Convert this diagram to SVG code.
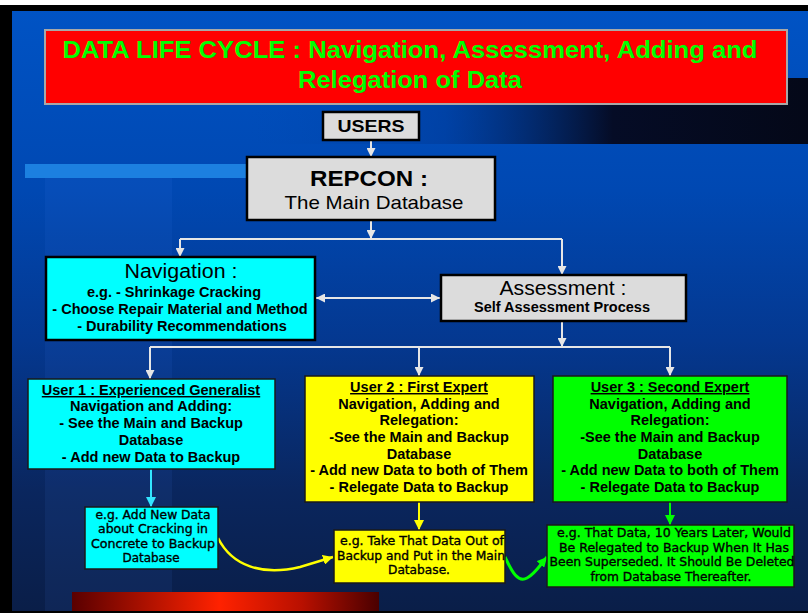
<svg xmlns="http://www.w3.org/2000/svg" width="808" height="613" viewBox="0 0 808 613">
<defs>
<linearGradient id="bg" x1="0" y1="0" x2="0" y2="1">
<stop offset="0" stop-color="#0053C4"/>
<stop offset="0.3" stop-color="#0048B2"/>
<stop offset="0.55" stop-color="#043890"/>
<stop offset="0.8" stop-color="#0A265E"/>
<stop offset="1" stop-color="#0A1E48"/>
</linearGradient>
<linearGradient id="band" x1="0" y1="0" x2="1" y2="0">
<stop offset="0" stop-color="#0048B0" stop-opacity="0"/>
<stop offset="0.35" stop-color="#003A98" stop-opacity="0.6"/>
<stop offset="0.65" stop-color="#050C26"/>
<stop offset="1" stop-color="#040818"/>
</linearGradient>
<linearGradient id="redbar" x1="0" y1="0" x2="1" y2="0">
<stop offset="0" stop-color="#5A0000"/>
<stop offset="0.48" stop-color="#FF2200"/>
<stop offset="0.75" stop-color="#B81000"/>
<stop offset="1" stop-color="#4A0000"/>
</linearGradient>
<marker id="ag" viewBox="0 0 10 10" refX="10" refY="5" markerWidth="9" markerHeight="9" markerUnits="userSpaceOnUse" orient="auto-start-reverse"><path d="M0,0 L10,5 L0,10 z" fill="#E6E6E6"/></marker>
<marker id="ac" viewBox="0 0 10 10" refX="10" refY="5" markerWidth="10" markerHeight="10" markerUnits="userSpaceOnUse" orient="auto"><path d="M0,0 L10,5 L0,10 z" fill="#33E6FF"/></marker>
<marker id="ay" viewBox="0 0 10 10" refX="10" refY="5" markerWidth="10" markerHeight="10" markerUnits="userSpaceOnUse" orient="auto"><path d="M0,0 L10,5 L0,10 z" fill="#FFFF00"/></marker>
<marker id="agr" viewBox="0 0 10 10" refX="10" refY="5" markerWidth="10" markerHeight="10" markerUnits="userSpaceOnUse" orient="auto"><path d="M0,0 L10,5 L0,10 z" fill="#00FF00"/></marker>
</defs>
<style>
.t{font-family:"Liberation Sans",Arial,sans-serif;text-anchor:middle;fill:#000}
.b{font-weight:bold}
.u{text-decoration:underline}
.s{font-family:"DejaVu Sans",Verdana,sans-serif;font-size:12px;text-anchor:middle;fill:#000;stroke:#000;stroke-width:0.35}
.gray{fill:#DCDCDC;stroke:#000;stroke-width:2.5}
.col{stroke:#1A1A1A;stroke-width:1.5}
.c{fill:none;stroke:#E6E6E6;stroke-width:2}
</style>
<!-- background -->
<rect x="0" y="0" width="808" height="613" fill="#FFFFFF"/>
<rect x="0" y="5" width="808" height="608" fill="#000"/>
<rect x="12" y="11" width="796" height="600" fill="url(#bg)"/>
<rect x="250" y="78" width="558" height="66" fill="url(#band)"/>
<rect x="25" y="164" width="222" height="14" fill="#1C80E0"/>
<rect x="45" y="178" width="127" height="433" fill="#4A90FF" opacity="0.08"/>
<rect x="72" y="592" width="307" height="19" fill="url(#redbar)"/>

<g id="title">
<rect x="45" y="30" width="742" height="74" fill="#FF0000" stroke="#A8A8A8" stroke-width="2"/>
<text class="t b" x="410" y="58" font-size="24" style="fill:#00FF00" textLength="695" lengthAdjust="spacingAndGlyphs">DATA LIFE CYCLE : Navigation, Assessment, Adding and</text>
<text class="t b" x="410" y="88" font-size="24" style="fill:#00FF00" textLength="224" lengthAdjust="spacingAndGlyphs">Relegation of Data</text>
</g>

<g id="connectors">
<path class="c" d="M371 140 V157" marker-end="url(#ag)"/>
<path class="c" d="M371 220 V239" marker-end="url(#ag)"/>
<path class="c" d="M180 239 H562"/>
<path class="c" d="M180 239 V257" marker-end="url(#ag)"/>
<path class="c" d="M562 239 V275" marker-end="url(#ag)"/>
<path class="c" d="M316 298 H440" marker-start="url(#ag)" marker-end="url(#ag)"/>
<path class="c" d="M562 321 V347" marker-end="url(#ag)"/>
<path class="c" d="M150 347 H670"/>
<path class="c" d="M150 347 V379" marker-end="url(#ag)"/>
<path class="c" d="M419 347 V376" marker-end="url(#ag)"/>
<path class="c" d="M670 347 V376" marker-end="url(#ag)"/>
<path d="M151 469 V507" fill="none" stroke="#33E6FF" stroke-width="2" marker-end="url(#ac)"/>
<path d="M419 502 V530" fill="none" stroke="#FFFF00" stroke-width="2" marker-end="url(#ay)"/>
<path d="M670 502 V525" fill="none" stroke="#00FF00" stroke-width="2" marker-end="url(#agr)"/>
<path d="M218 538 C 232 566, 262 576, 300 567 L 333 557" fill="none" stroke="#FFFF00" stroke-width="2.5" marker-end="url(#ay)"/>
<path d="M505 557 C 512 572, 518 583, 527 578 C 535 574, 540 565, 547 557" fill="none" stroke="#00FF00" stroke-width="3" marker-end="url(#agr)"/>
</g>

<g id="users">
<rect class="gray" x="323" y="112" width="96" height="28"/>
<text class="t b" x="371" y="132" font-size="17" textLength="67" lengthAdjust="spacingAndGlyphs">USERS</text>
</g>

<g id="repcon">
<rect class="gray" x="247" y="157" width="248" height="63"/>
<text class="t b" x="369" y="186" font-size="22" textLength="118" lengthAdjust="spacingAndGlyphs">REPCON :</text>
<text class="t" x="374" y="209" font-size="19" textLength="179" lengthAdjust="spacingAndGlyphs">The Main Database</text>
</g>

<g id="navigation">
<rect x="46" y="257" width="269" height="83" fill="#00FFFF" stroke="#000" stroke-width="2.5"/>
<text class="t" x="181" y="278" font-size="20" textLength="113" lengthAdjust="spacingAndGlyphs">Navigation :</text>
<text class="t b" x="174" y="297" font-size="14.5">e.g. - Shrinkage Cracking</text>
<text class="t b" x="180" y="314" font-size="14.5">- Choose Repair Material and Method</text>
<text class="t b" x="182" y="331" font-size="14.5">- Durability Recommendations</text>
</g>

<g id="assessment">
<rect class="gray" x="441" y="275" width="245" height="46"/>
<text class="t" x="563" y="295" font-size="20" textLength="127" lengthAdjust="spacingAndGlyphs">Assessment :</text>
<text class="t b" x="562" y="312" font-size="14.5">Self Assessment Process</text>
</g>

<g id="user1">
<rect class="col" x="28" y="379" width="247" height="90" fill="#00FFFF"/>
<text class="t b u" x="151" y="395" font-size="14.5">User 1 : Experienced Generalist</text>
<text class="t b" x="151" y="411" font-size="14.5">Navigation and Adding:</text>
<text class="t b" x="151" y="428" font-size="14.5">- See the Main and Backup</text>
<text class="t b" x="151" y="445" font-size="14.5">Database</text>
<text class="t b" x="151" y="462" font-size="14.5">- Add new Data to Backup</text>
</g>

<g id="user2">
<rect class="col" x="305" y="376" width="229" height="126" fill="#FFFF00"/>
<text class="t b u" x="419" y="392" font-size="14.5">User 2 : First Expert</text>
<text class="t b" x="419" y="409" font-size="14.5">Navigation, Adding and</text>
<text class="t b" x="419" y="425" font-size="14.5">Relegation:</text>
<text class="t b" x="419" y="442" font-size="14.5">-See the Main and Backup</text>
<text class="t b" x="419" y="459" font-size="14.5">Database</text>
<text class="t b" x="419" y="475" font-size="14.5">- Add new Data to both of Them</text>
<text class="t b" x="419" y="492" font-size="14.5">- Relegate Data to Backup</text>
</g>

<g id="user3">
<rect class="col" x="553" y="376" width="234" height="126" fill="#00FF00"/>
<text class="t b u" x="670" y="392" font-size="14.5">User 3 : Second Expert</text>
<text class="t b" x="670" y="409" font-size="14.5">Navigation, Adding and</text>
<text class="t b" x="670" y="425" font-size="14.5">Relegation:</text>
<text class="t b" x="670" y="442" font-size="14.5">-See the Main and Backup</text>
<text class="t b" x="670" y="459" font-size="14.5">Database</text>
<text class="t b" x="670" y="475" font-size="14.5">- Add new Data to both of Them</text>
<text class="t b" x="670" y="492" font-size="14.5">- Relegate Data to Backup</text>
</g>

<g id="example1">
<rect class="col" x="85" y="507" width="133" height="62" fill="#00FFFF"/>
<text class="s" x="153" y="519" textLength="115" lengthAdjust="spacingAndGlyphs">e.g. Add New Data</text>
<text class="s" x="153" y="533" textLength="110" lengthAdjust="spacingAndGlyphs">about Cracking in</text>
<text class="s" x="153" y="548" textLength="124" lengthAdjust="spacingAndGlyphs">Concrete to Backup</text>
<text class="s" x="151" y="562" textLength="57" lengthAdjust="spacingAndGlyphs">Database</text>
</g>

<g id="example2">
<rect class="col" x="334" y="530" width="171" height="53" fill="#FFFF00"/>
<text class="s" x="422" y="545" textLength="164" lengthAdjust="spacingAndGlyphs">e.g. Take That Data Out of</text>
<text class="s" x="421" y="560" textLength="168" lengthAdjust="spacingAndGlyphs">Backup and Put in the Main</text>
<text class="s" x="419" y="574" textLength="62" lengthAdjust="spacingAndGlyphs">Database.</text>
</g>

<g id="example3">
<rect class="col" x="547" y="525" width="247" height="62" fill="#00FF00"/>
<text class="s" x="674" y="537" textLength="234" lengthAdjust="spacingAndGlyphs">e.g. That Data, 10 Years Later, Would</text>
<text class="s" x="674" y="552" textLength="230" lengthAdjust="spacingAndGlyphs">Be Relegated to Backup When It Has</text>
<text class="s" x="672" y="566" textLength="245" lengthAdjust="spacingAndGlyphs">Been Superseded. It Should Be Deleted</text>
<text class="s" x="671" y="581" textLength="161" lengthAdjust="spacingAndGlyphs">from Database Thereafter.</text>
</g>
</svg>
